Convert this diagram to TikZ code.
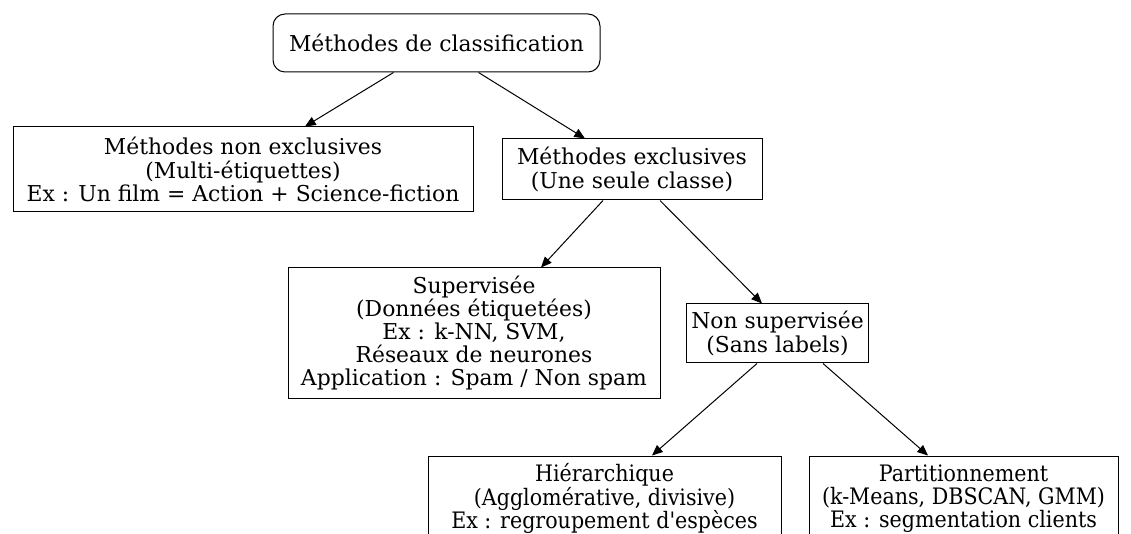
\documentclass[tikz,border=0pt]{standalone}
\usepackage{fontspec}
\setmainfont{DejaVu Serif}[Ligatures=TeXOff]
\newfontfamily\condfont{DejaVu Serif}[Ligatures=TeXOff,FakeStretch=0.91]
\usetikzlibrary{arrows.meta,calc}
\tikzset{
  box/.style={draw=black, line width=0.75pt, rectangle, align=center, inner sep=0pt,
    font=\fontsize{16.4}{17.4}\selectfont},
  condbox/.style={box, font=\condfont\fontsize{17}{17.4}\selectfont},
  rootbox/.style={box, rounded corners=9pt},
  edge/.style={line width=0.75pt, -{Triangle[length=8pt,width=6.75pt]}}
}
\begin{document}
\begin{tikzpicture}[x=0.75pt,y=-0.75pt]
\useasboundingbox (0,0) rectangle (1131,534);
\clip (0,0) rectangle (1131,534);
\node[rootbox, minimum width=327*0.75pt, minimum height=58*0.75pt] (root) at (436.5,43) {Méthodes de classification};
\node[box, minimum width=460*0.75pt, minimum height=85*0.75pt] (nonexcl) at (243,169.5) {Méthodes non exclusives\\(Multi-étiquettes)\\Ex : Un film = Action + Science-fiction};
\node[box, minimum width=260*0.75pt, minimum height=61*0.75pt] (excl) at (632,169.5) {Méthodes exclusives\\(Une seule classe)};
\node[box, minimum width=372*0.75pt, minimum height=130*0.75pt] (sup) at (474,333) {Supervisée\\(Données étiquetées)\\Ex : k-NN, SVM,\\Réseaux de neurones\\Application : Spam / Non spam};
\node[box, minimum width=182*0.75pt, minimum height=59*0.75pt] (nonsup) at (777.5,333.5) {Non supervisée\\(Sans labels)};
\node[condbox, minimum width=353*0.75pt, minimum height=85*0.75pt] (hier) at (604.5,498.5) {Hiérarchique\\(Agglomérative, divisive)\\Ex : regroupement d'espèces};
\node[condbox, minimum width=309*0.75pt, minimum height=85*0.75pt] (part) at (963.5,498.5) {Partitionnement\\(k-Means, DBSCAN, GMM)\\Ex : segmentation clients};
\draw[edge] ($(root.south)+(-43,0)$) -- ($(nonexcl.north)+(62,0)$);
\draw[edge] ($(root.south)+(42,0)$) -- ($(excl.north)+(-47,0)$);
\draw[edge] ($(excl.south)+(-29,0)$) -- ($(sup.north)+(67,0)$);
\draw[edge] ($(excl.south)+(28,0)$) -- ($(nonsup.north)+(-15.5,0)$);
\draw[edge] ($(nonsup.south)+(-20.5,0)$) -- ($(hier.north)+(47.5,0)$);
\draw[edge] ($(nonsup.south)+(45.5,0)$) -- ($(part.north)+(-35.5,0)$);
\end{tikzpicture}
\end{document}
